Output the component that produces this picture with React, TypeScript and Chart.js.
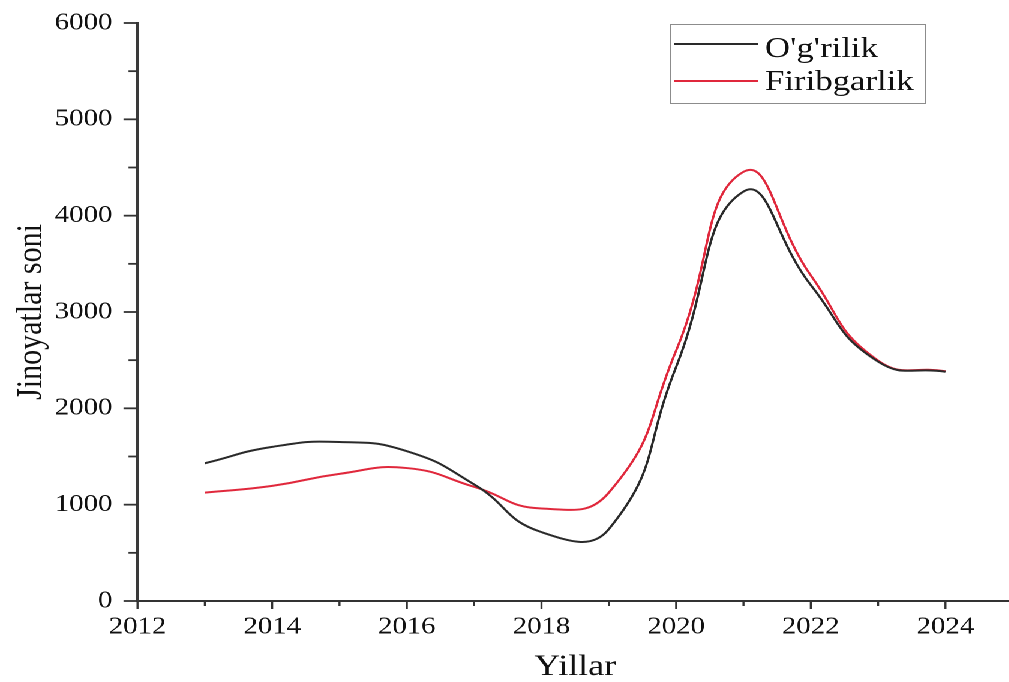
import React, { useEffect, useRef } from 'react';
import { Chart, registerables } from 'chart.js';

Chart.register(...registerables);

// ---- data ----
const years = [2013, 2014, 2015, 2016, 2017, 2018, 2019, 2020, 2021, 2022, 2023, 2024];
const theft = [1430, 1600, 1650, 1555, 1210, 715, 745, 2430, 4250, 3280, 2485, 2380]; // O'g'rilik
const fraud = [1125, 1195, 1320, 1380, 1185, 960, 1125, 2600, 4455, 3380, 2495, 2385]; // Firibgarlik
const seriesNames = ["O'g'rilik", 'Firibgarlik'];
const xMin = 2012;
const xMax = 2025;
const yMin = 0;
const yMax = 6000;
const xTitle = 'Yillar';
const yTitle = 'Jinoyatlar soni';

// ---- layout (logical units, stretched horizontally) ----
const STRETCH = 1.2;
const W = 845;
const H = 682;
const FONT = '"Liberation Serif", "Times New Roman", serif';

const tickMarksPlugin = {
  id: 'tickMarks',
  afterDraw(chart: any) {
    const { ctx, chartArea } = chart;
    const xs = chart.scales.x;
    const ys = chart.scales.y;
    ctx.save();
    ctx.strokeStyle = '#333';
    ctx.lineWidth = 1.8;
    for (let v = yMin; v <= yMax; v += 500) {
      const py = ys.getPixelForValue(v);
      const len = v % 1000 === 0 ? 11.7 : 7.5;
      ctx.beginPath();
      ctx.moveTo(chartArea.left - len, py);
      ctx.lineTo(chartArea.left, py);
      ctx.stroke();
    }
    ctx.lineWidth = 1.7;
    for (let v = xMin; v <= xMax; v += 1) {
      const px = xs.getPixelForValue(v);
      const len = v % 2 === 0 ? 8 : 5;
      ctx.beginPath();
      ctx.moveTo(px, chartArea.bottom);
      ctx.lineTo(px, chartArea.bottom + len);
      ctx.stroke();
    }
    ctx.restore();
  },
};

const boxLegendPlugin = {
  id: 'boxLegend',
  afterDraw(chart: any) {
    const { ctx } = chart;
    ctx.save();
    ctx.strokeStyle = '#8c8c8c';
    ctx.lineWidth = 1;
    ctx.strokeRect(558.5, 24.5, 213, 79);
    const lineY = [44, 81];
    const baseY = [57, 90];
    chart.data.datasets.forEach((ds: any, i: number) => {
      ctx.strokeStyle = ds.borderColor;
      ctx.lineWidth = 2;
      ctx.beginPath();
      ctx.moveTo(562, lineY[i]);
      ctx.lineTo(632, lineY[i]);
      ctx.stroke();
      ctx.fillStyle = '#111';
      ctx.font = `29px ${FONT}`;
      ctx.textAlign = 'left';
      ctx.textBaseline = 'alphabetic';
      ctx.fillText(ds.label, 637.5, baseY[i]);
    });
    ctx.restore();
  },
};

export default function App() {
  const canvasRef = useRef<HTMLCanvasElement>(null);

  useEffect(() => {
    document.documentElement.style.overflow = 'hidden';
    document.body.style.overflow = 'hidden';
    document.body.style.margin = '0';
    const canvas = canvasRef.current;
    if (!canvas) return;
    const chart = new Chart(canvas, {
      type: 'line',
      data: {
        datasets: [
          {
            label: seriesNames[0],
            data: years.map((y, i) => ({ x: y, y: theft[i] })),
            borderColor: '#2a2a2a',
            borderWidth: 2,
            pointRadius: 0,
            tension: 0.5,
            fill: false,
          },
          {
            label: seriesNames[1],
            data: years.map((y, i) => ({ x: y, y: fraud[i] })),
            borderColor: '#e0283c',
            borderWidth: 2,
            pointRadius: 0,
            tension: 0.5,
            fill: false,
          },
        ],
      },
      options: {
        animation: false,
        responsive: true,
        maintainAspectRatio: false,
        devicePixelRatio: 2,
        layout: { padding: { top: 23, left: 0, right: 0, bottom: 0 } },
        plugins: {
          legend: { display: false },
          tooltip: { enabled: false },
        },
        scales: {
          x: {
            type: 'linear',
            min: xMin,
            max: xMax,
            grid: { display: false, drawTicks: false, tickLength: 0 },
            border: { display: true, color: '#333', width: 2 },
            ticks: {
              stepSize: 1,
              autoSkip: false,
              maxRotation: 0,
              padding: 12,
              color: '#111',
              font: { family: FONT, size: 24 },
              callback: (v: any) => (Number(v) % 2 === 0 ? String(v) : ''),
            },
            title: {
              display: true,
              text: xTitle,
              color: '#111',
              font: { family: FONT, size: 30, lineHeight: 1 },
              padding: { top: 0, bottom: 0 },
            },
            afterFit: (s: any) => {
              s.height = 81;
              s.paddingLeft = 0;
              s.paddingRight = 0;
            },
          },
          y: {
            type: 'linear',
            min: yMin,
            max: yMax,
            grid: { display: false, drawTicks: false, tickLength: 0 },
            border: { display: true, color: '#3a3a3a', width: 2.5 },
            ticks: {
              stepSize: 1000,
              padding: 21,
              color: '#111',
              font: { family: FONT, size: 24 },
              callback: (v: any) => String(v),
            },
            title: {
              display: true,
              text: yTitle,
              color: '#111',
              font: { family: FONT, size: 30, lineHeight: 1.2 },
              padding: { top: 8, bottom: 0 },
            },
            afterFit: (s: any) => {
              s.width = 114.6;
              s.paddingTop = 0;
              s.paddingBottom = 0;
            },
          },
        },
      },
      plugins: [tickMarksPlugin, boxLegendPlugin],
    });
    return () => chart.destroy();
  }, []);

  return (
    <div
      style={{
        position: 'absolute',
        left: 0,
        top: 0,
        width: W,
        height: H,
        transform: `scaleX(${STRETCH})`,
        transformOrigin: '0 0',
        background: '#fff',
      }}
    >
      <canvas ref={canvasRef} />
    </div>
  );
}
